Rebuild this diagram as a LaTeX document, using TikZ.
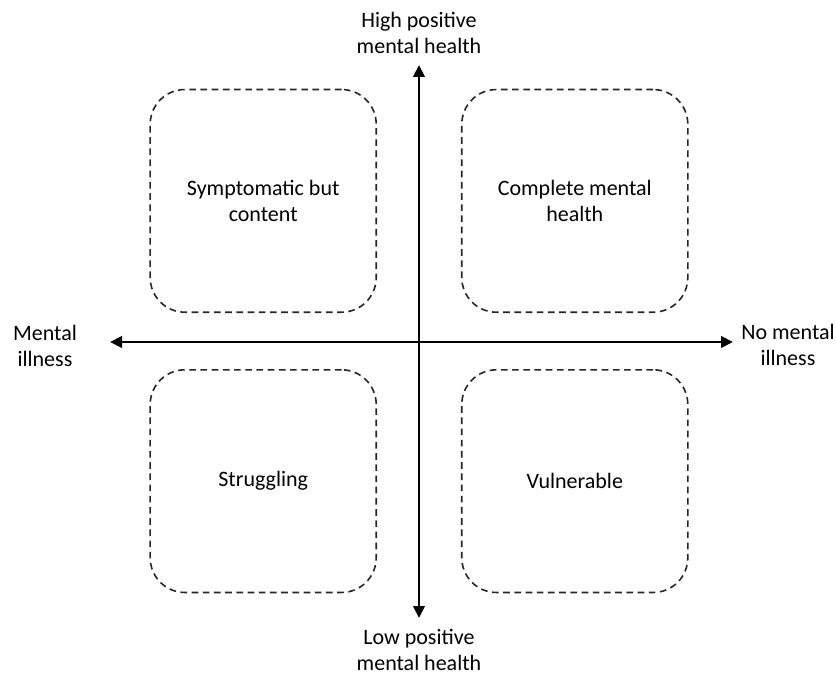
\documentclass[tikz,border=0pt]{standalone}
\usepackage{fontspec}
\setmainfont{Carlito}
\usetikzlibrary{arrows.meta}

\begin{document}
\begin{tikzpicture}[x=0.75pt, y=-0.75pt, font=\fontsize{16.5}{19.5}\selectfont,
  quad/.style={draw=black!85, line width=1.2pt, dash pattern=on 5pt off 3.4pt, rounded corners=26pt,
    minimum width=169.5pt, minimum height=167pt, align=center, inner sep=0pt},
  axis/.style={line width=2.2pt, {Triangle[length=9pt,width=8.5pt]}-{Triangle[length=9pt,width=8.5pt]}},
  lbl/.style={align=center}]
  \useasboundingbox (0,0) rectangle (836,674);
  \matrix (m) at (419,341) [row sep=42pt, column sep=63pt, nodes={quad}]
  {
    \node (sym) {Symptomatic but\\content}; & \node (comp) {Complete mental\\health}; \\
    \node (strug) {Struggling}; & \node (vuln) {Vulnerable}; \\
  };
  \coordinate (ill) at (110,342);
  \coordinate (noill) at (733,342);
  \coordinate (hi) at (419,65);
  \coordinate (lo) at (419,618);
  \draw[axis] (ill) -- (noill);
  \draw[axis] (lo) -- (hi);
  \node[lbl] (hipos) at (419,33) {High positive\\mental health};
  \node[lbl] (lopos) at (419,650) {Low positive\\mental health};
  \node[lbl] (mental) at (45,346) {Mental\\illness};
  \node[lbl] (nomental) at (788,345) {No mental\\illness};
\end{tikzpicture}
\end{document}
